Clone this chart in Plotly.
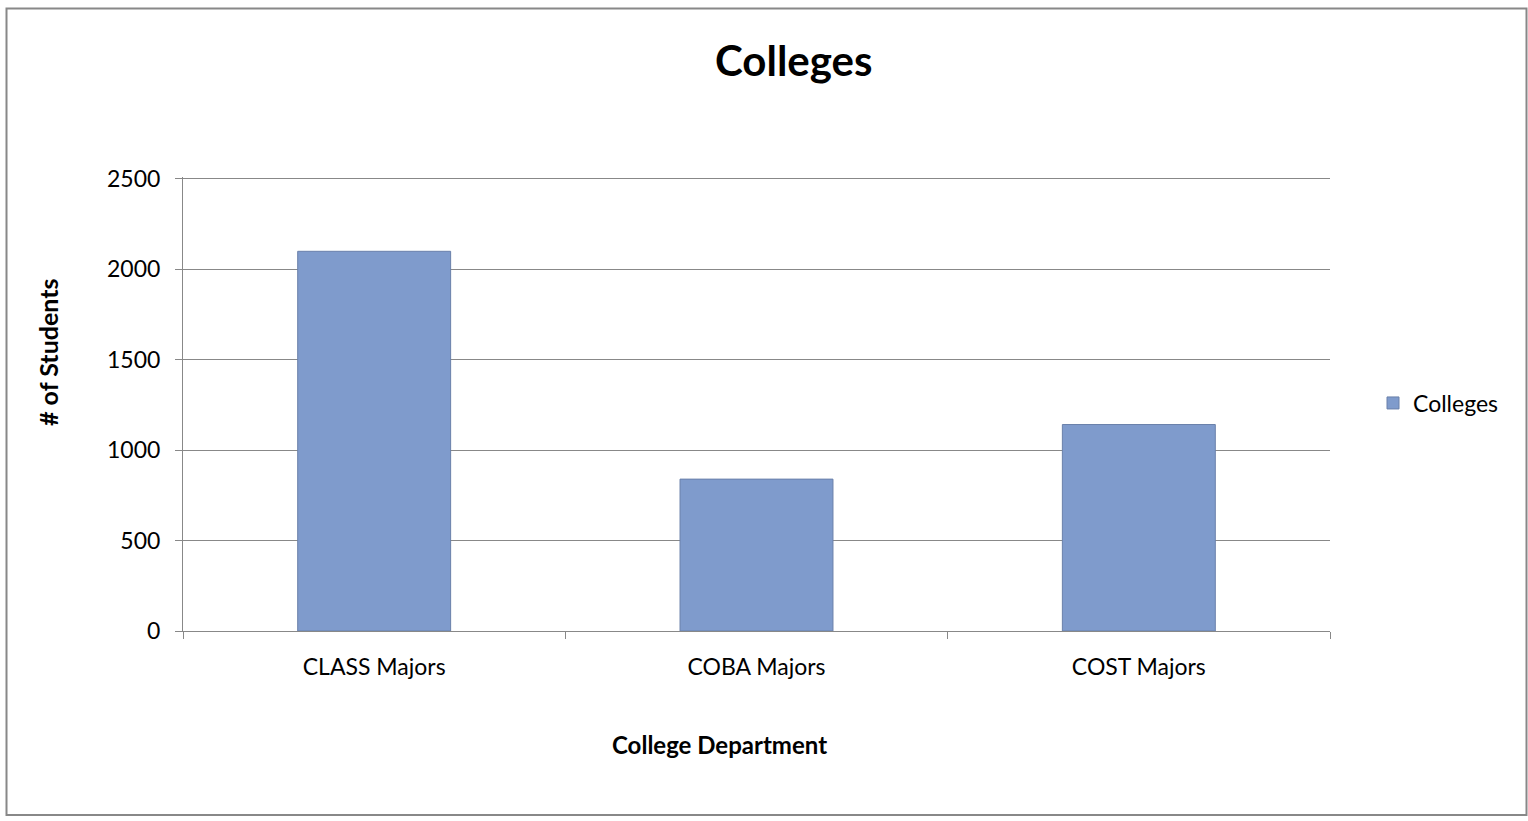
import plotly.graph_objects as go

categories = ["CLASS Majors", "COBA Majors", "COST Majors"]
students = [2100, 840, 1142]
y_ticks = [0, 500, 1000, 1500, 2000, 2500]

W, H = 1528, 821
L, R, T, B = 183, 198, 177, 190
pw, ph = W - L - R, H - T - B

def px(x):
    return (x - L) / pw

def py(y):
    return (H - B - y) / ph

font = "Lato, Carlito, 'Open Sans', sans-serif"

fig = go.Figure()
fig.add_trace(go.Bar(
    x=categories, y=students, name="Colleges",
    marker=dict(color="#7F9BCC", line=dict(color="#6A80AA", width=1)),
    width=0.4,
))

fig.update_layout(
    width=W, height=H,
    margin=dict(l=L, r=R, t=T, b=B),
    paper_bgcolor="white", plot_bgcolor="white",
    font=dict(family=font, size=23, color="black"),
    showlegend=True,
    legend=dict(x=px(1373), y=py(403), xanchor="left", yanchor="middle",
                font=dict(size=23), itemwidth=30, bgcolor="rgba(0,0,0,0)"),
    xaxis=dict(tickson="boundaries", ticks="outside", ticklen=7, tickcolor="#888",
               showline=True, linecolor="#888", linewidth=1, showgrid=False,
               tickfont=dict(size=23), ticklabelstandoff=15),
    yaxis=dict(range=[0, 2511], tickvals=y_ticks, ticks="outside", ticklen=7,
               tickcolor="#888", showline=True, linecolor="#888",
               gridcolor="#888", gridwidth=1, zeroline=False,
               tickfont=dict(size=23), ticklabelstandoff=10),
    shapes=[dict(type="rect", xref="paper", yref="paper",
                 x0=px(6.5), x1=px(1526.5), y0=py(815), y1=py(8.5),
                 line=dict(color="#888", width=2), fillcolor="rgba(0,0,0,0)")],
    annotations=[
        dict(text="<b>Colleges</b>", xref="paper", yref="paper", x=px(793), y=py(60),
             showarrow=False, font=dict(size=42), xanchor="center", yanchor="middle"),
        dict(text="<b>College Department</b>", xref="paper", yref="paper", x=px(719), y=py(744),
             showarrow=False, font=dict(size=24), xanchor="center", yanchor="middle"),
        dict(text="<b># of Students</b>", xref="paper", yref="paper", x=px(48), y=py(352),
             showarrow=False, font=dict(size=25), textangle=-90, xanchor="center", yanchor="middle"),
    ],
)

fig.write_html("out.html")
